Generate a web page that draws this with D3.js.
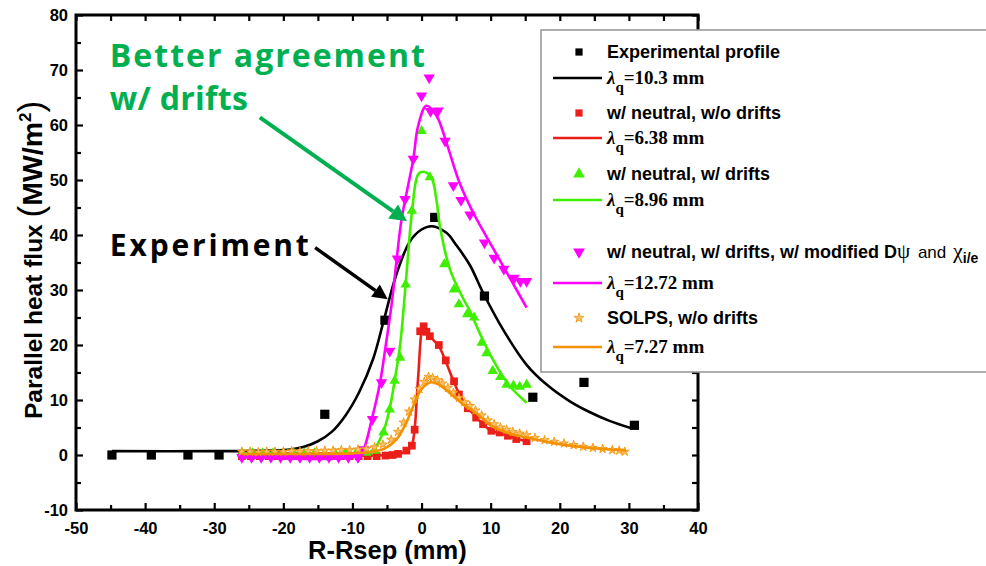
<!DOCTYPE html>
<html>
<head>
<meta charset="utf-8">
<script src="https://cdn.jsdelivr.net/npm/d3@7"></script>
<style>
  html, body { margin: 0; padding: 0; background: #fff; }
  svg { display: block; }
</style>
</head>
<body>
<svg id="chart" width="986" height="566"></svg>
<script>
// ---- axis ticks ----
const xTicks = [-50, -40, -30, -20, -10, 0, 10, 20, 30, 40];
const yTicks = [-10, 0, 10, 20, 30, 40, 50, 60, 70, 80];
const xMinor = [-45, -35, -25, -15, -5, 5, 15, 25, 35];
const yMinor = [-5, 5, 15, 25, 35, 45, 55, 65, 75];

// ---- experimental profile (squares) and its fit, lambda_q = 10.3 mm ----
const expX = [-44.8, -39.1, -33.8, -29.3, -14.0, -5.3, 1.9, 9.1, 16.1, 23.5, 30.8];
const expY = [0, 0, 0, 0, 7.4, 24.5, 43.2, 28.9, 10.5, 13.2, 5.4];
const expFitX = [-44.8, -30, -22, -19, -17, -15, -13, -11, -9, -7, -5.5, -3.6, -1.7, 0, 1.5, 3.6, 5, 7, 8.9, 11.8, 15.2, 18.1, 21.4, 24, 27.2, 30.5];
const expFitY = [0.7, 0.7, 0.8, 1.0, 1.5, 2.5, 4.2, 7.2, 11.5, 17.5, 24.3, 33, 38.8, 41, 41.6, 40.4, 38.2, 34.5, 29.5, 22.8, 16.4, 12.8, 9.8, 8.0, 6.2, 4.8];

// ---- w/ neutral, w/o drifts (red squares), lambda_q = 6.38 mm ----
const noDriftX = [-26, -24.7, -23.4, -22.1, -20.8, -19.5, -18.2, -16.9, -15.6, -14.3, -13, -11.7, -10.4, -9.1, -7.8, -6.5, -5.2, -4.2, -3.4, -2.2, -1.4, -1.0, -0.2, 0.3, 0.7, 1.2, 2.5, 3.5, 4.7, 5.4, 6.7, 7.9, 8.9, 10.1, 11.3, 12.5, 13.7, 15.2];
const noDriftY = [-0.2, -0.2, -0.2, -0.2, -0.2, -0.2, -0.2, -0.2, -0.2, -0.2, -0.2, -0.2, -0.2, -0.2, -0.2, -0.2, -0.1, 0, 0.2, 0.8, 1.7, 4.6, 22.5, 23.4, 22.4, 21.6, 20, 17.2, 13.4, 11, 8.5, 6.8, 5.6, 4.4, 4.1, 3.5, 2.9, 2.5];
const noDriftFitX = [-26, -5, -3, -2, -1.4, -1, -0.5, 0.3, 1.2, 2.5, 3.5, 4.7, 5.5, 6.7, 7.9, 8.9, 10.1, 11.3, 12.5, 13.7, 15.2];
const noDriftFitY = [-0.1, 0, 0.3, 0.8, 1.8, 4.7, 14, 23.5, 21.6, 19.8, 17, 13.2, 11, 8.6, 6.9, 5.6, 4.4, 4, 3.5, 3, 2.5];

// ---- w/ neutral, w/ drifts (green triangles), lambda_q = 8.96 mm ----
const driftX = [-26, -24.5, -23, -21.5, -20, -18.5, -17, -15.5, -14, -12.5, -11, -9.5, -8, -6.8, -5.5, -4.6, -3.9, -3.1, -2.3, -1.4, 0, 1.2, 3.3, 4.7, 5.4, 6.6, 7.6, 8.7, 9.4, 10.3, 11.4, 12.3, 13.3, 14.2, 15.2];
const driftY = [0.3, 0.3, 0.3, 0.3, 0.3, 0.3, 0.3, 0.3, 0.3, 0.3, 0.3, 0.3, 0.4, 0.8, 4.1, 8.3, 13.5, 17.7, 31, 44.4, 58.9, 50.5, 34.7, 30.1, 27.4, 25.6, 25, 20.4, 18.5, 15.3, 14.2, 12.8, 12.6, 12.4, 12.8];
const driftFitX = [-26, -8.5, -7, -5.6, -4.6, -3.9, -3.1, -2.3, -1.4, -0.5, 0.2, 1.4, 2.2, 2.6, 4.1, 6, 7, 8.4, 10.3, 12.8, 15.2];
const driftFitY = [0.3, 0.3, 0.9, 4, 8.5, 13.5, 20, 31, 44, 51, 51.5, 50.5, 46, 42, 33.8, 28.5, 26.2, 22.2, 17.4, 12.5, 9.5];

// ---- w/ neutral, w/ drifts, w/ modified D and chi (magenta), lambda_q = 12.72 mm ----
const modX = [-26, -24.6, -23.2, -21.8, -20.4, -19, -17.6, -16.2, -14.8, -13.4, -12, -10.6, -9.2, -8.4, -7.1, -5.8, -4.6, -3.5, -2.4, -1.2, 0, 1.1, 1.3, 2.4, 3.4, 4.6, 5.7, 7.0, 9.1, 10.5, 11.9, 13.4, 14.3, 15.2];
const modY = [-0.4, -0.4, -0.4, -0.4, -0.4, -0.4, -0.4, -0.4, -0.4, -0.4, -0.4, -0.4, -0.4, 1.0, 6.5, 13.2, 18.9, 35.7, 46.5, 53.8, 65.3, 68.6, 62.5, 62.6, 57.1, 49, 46.3, 43.7, 38.6, 35.8, 33.8, 32.2, 31.6, 31.6];
const modFitX = [-26, -10, -9, -8.4, -7.2, -6, -5.3, -4.3, -3.6, -2.9, -1.2, -0.5, 0.7, 2.2, 3.6, 5.5, 7.5, 10.3, 12.5, 15.2];
const modFitY = [-0.4, -0.4, 0.2, 1, 6.5, 13.2, 18.9, 27.7, 35.6, 42.8, 53.8, 59.8, 63.5, 61.6, 56.8, 49.5, 44, 37.7, 32.8, 26.8];

// ---- SOLPS, w/o drifts (orange stars), lambda_q = 7.27 mm ----
const solpsX = [-26, -24.8, -23.6, -22.4, -21.2, -20, -18.8, -17.6, -16.4, -15.2, -14, -12.8, -11.6, -10.4, -9.2, -8, -6.8, -5.6, -4.4, -3.4, -2.6, -1.8, -1, -0.3, 0.4, 1, 1.6, 2.3, 3, 3.8, 4.6, 5.4, 6.2, 7, 7.8, 8.7, 9.6, 10.5, 11.4, 12.3, 13.2, 14.2, 15.2, 16.4, 17.8, 19.2, 20.6, 22, 23.4, 24.8, 26.2, 27.6, 28.6, 29.4];
const solpsY = [0.6, 0.6, 0.5, 0.6, 0.6, 0.6, 0.7, 0.6, 0.7, 0.7, 0.8, 0.8, 0.9, 0.9, 1.0, 1.1, 1.4, 1.9, 2.8, 4.2, 5.9, 7.9, 10.1, 12.0, 13.3, 14.2, 14.0, 13.6, 13.0, 12.2, 11.3, 10.4, 9.6, 8.9, 8.1, 7.2, 6.3, 5.6, 5.0, 4.6, 4.2, 3.9, 3.6, 3.1, 2.7, 2.4, 2.1, 1.8, 1.5, 1.3, 1.1, 0.9, 0.8, 0.6];
const solpsFitX = [-26, -10, -7, -5.3, -3.6, -2.2, -1, 0, 1.2, 2.5, 4.6, 6.2, 7.9, 10, 12.5, 15.2, 18.5, 23.4, 29.6];
const solpsFitY = [0.2, 0.3, 0.6, 1.2, 2.9, 5.9, 9.5, 12, 13.2, 12.8, 10.7, 9, 7.6, 5.4, 4, 3.2, 2.3, 1.4, 0.8];

// ---- legend text ----
const legendNames = ["Experimental profile", "w/ neutral, w/o drifts", "w/ neutral, w/ drifts", "w/ neutral, w/ drifts, w/ modified D", "SOLPS, w/o drifts"];
const lambdaValues = ["10.3", "6.38", "8.96", "12.72", "7.27"];

// ---- colours and layout ----
const C = { exp: "#000000", red: "#ea1f1a", green: "#3ef000", magenta: "#ff00ff", orange: "#f39100", star: "#f7c06a", note: "#00b050" };
const svg = d3.select("#chart");
const x = d3.scaleLinear().domain([-50, 40]).range([76, 698]);
const y = d3.scaleLinear().domain([-10, 80]).range([510, 15]);
const zip = (a, b) => a.map((v, i) => [v, b[i]]);
const line = d3.line().x(d => x(d[0])).y(d => y(d[1])).curve(d3.curveCatmullRom.alpha(0.5));

const plot = svg.append("g");

// ---- series ----
const series = [
  { pts: zip(expX, expY), fit: zip(expFitX, expFitY), color: C.exp, sym: "square", size: 85, width: 2.6 },
  { pts: zip(noDriftX, noDriftY), fit: zip(noDriftFitX, noDriftFitY), color: C.red, sym: "square", size: 60, width: 2.6 },
  { pts: zip(driftX, driftY), fit: zip(driftFitX, driftFitY), color: C.green, sym: "up", size: 48, width: 2.6 },
  { pts: zip(modX, modY), fit: zip(modFitX, modFitY), color: C.magenta, sym: "down", size: 55, width: 2.6 },
  { pts: zip(solpsX, solpsY), fit: zip(solpsFitX, solpsFitY), color: C.orange, sym: "star", size: 26, width: 2.6 }
];

function marker(g, s, size) {
  if (s.sym === "star") {
    g.append("path").attr("d", d3.symbol(d3.symbolStar, size)())
      .attr("fill", C.star).attr("stroke", s.color).attr("stroke-width", 0.8);
  } else if (s.sym === "square") {
    g.append("path").attr("d", d3.symbol(d3.symbolSquare, size)()).attr("fill", s.color);
  } else {
    g.append("path").attr("d", d3.symbol(d3.symbolTriangle, size)())
      .attr("transform", s.sym === "down" ? "rotate(180)" : null)
      .attr("fill", s.color);
  }
}

series.forEach(s => {
  const g = plot.append("g");
  g.selectAll("g.pt").data(s.pts).join("g").attr("class", "pt")
    .attr("transform", d => `translate(${x(d[0])},${y(d[1])})`)
    .each(function () { marker(d3.select(this), s, s.size); });
  g.append("path").datum(s.fit).attr("d", line)
    .attr("fill", "none").attr("stroke", s.color).attr("stroke-width", s.width)
    .attr("stroke-linejoin", "round");
});

// ---- axes (ticks inward) ----
const sansBold = "Liberation Sans, Arial, sans-serif";
const serif = "Liberation Serif, Times New Roman, serif";
const tickFont = g => g.selectAll("text").attr("font-family", sansBold)
  .attr("font-weight", "bold").attr("font-size", 16.5).attr("fill", "#000");
const clean = g => { g.select(".domain").remove(); g.selectAll("line").attr("stroke", "#000").attr("stroke-width", 2.2); };

svg.append("g").attr("transform", `translate(0,${y(-10)})`)
  .call(d3.axisBottom(x).tickValues(xTicks).tickSize(-7).tickPadding(12).tickFormat(d => String(d)))
  .call(clean).call(tickFont);
svg.append("g").attr("transform", `translate(0,${y(-10)})`)
  .call(d3.axisBottom(x).tickValues(xMinor).tickSize(-5).tickFormat("")).call(clean);
svg.append("g").attr("transform", `translate(${x(-50)},0)`)
  .call(d3.axisLeft(y).tickValues(yTicks).tickSize(-7).tickPadding(8).tickFormat(d => String(d)))
  .call(clean).call(tickFont);
svg.append("g").attr("transform", `translate(${x(-50)},0)`)
  .call(d3.axisLeft(y).tickValues(yMinor).tickSize(-5).tickFormat("")).call(clean);
svg.append("g").attr("transform", `translate(0,${y(80)})`)
  .call(d3.axisTop(x).tickValues(xTicks.concat(xMinor)).tickSize(-6).tickFormat("")).call(clean);
svg.append("g").attr("transform", `translate(${x(40)},0)`)
  .call(d3.axisRight(y).tickValues(yTicks.concat(yMinor)).tickSize(-6).tickFormat("")).call(clean);

// frame
svg.append("path")
  .attr("d", `M${x(-50)},${y(80)}H${x(40)}V${y(-10)}H${x(-50)}Z`)
  .attr("fill", "none").attr("stroke", "#000").attr("stroke-width", 3);

// ---- axis titles ----
svg.append("text")
  .attr("x", 308).attr("y", 559)
  .attr("font-family", sansBold).attr("font-weight", "bold")
  .attr("font-size", 25.5).text("R-Rsep (mm)");

const yt = svg.append("text")
  .attr("transform", "translate(42,419) rotate(-90)")
  .attr("font-family", sansBold).attr("font-weight", "bold")
  .attr("font-size", 24.5);
yt.append("tspan").text("Parallel heat flux ");
yt.append("tspan").attr("font-weight", "normal").attr("font-size", 35).attr("dy", 1).text("(");
yt.append("tspan").attr("font-size", 28.5).attr("dy", -1).text("MW/m");
yt.append("tspan").attr("font-size", 17).attr("dy", -11).text("2");
yt.append("tspan").attr("font-weight", "normal").attr("font-size", 35).attr("dy", 12).text(")");

// ---- legend ----
const lg = svg.append("g");
lg.append("rect").attr("x", 541).attr("y", 30).attr("width", 470).attr("height", 342)
  .attr("fill", "#fff").attr("stroke", "#9a9a9a").attr("stroke-width", 1.6);

const rowMarkerY = [52, 113, 174, 252, 318];
const rowLineY = [78, 138, 200, 283, 347];

series.forEach((s, i) => {
  const mg = lg.append("g").attr("transform", `translate(579,${rowMarkerY[i]})`);
  marker(mg, s, s.sym === "star" ? 30 : s.sym === "square" ? 52 : 60);
  const t = lg.append("text").attr("x", 607).attr("y", rowMarkerY[i] + 6)
    .attr("font-family", sansBold).attr("font-weight", "bold").attr("font-size", 18);
  t.append("tspan").text(legendNames[i]);
  if (i === 3) {
    t.append("tspan").attr("font-family", serif).attr("font-weight", "normal").attr("font-size", 21).text("ψ");
    t.append("tspan").attr("font-weight", "normal").attr("font-size", 17).attr("dx", 3).text(" and ");
    t.append("tspan").attr("font-family", serif).attr("font-weight", "normal").attr("font-size", 22).attr("dx", 2).text("χ");
    t.append("tspan").attr("font-size", 14).attr("dy", 5).text("i/e");
  }
  lg.append("line").attr("x1", 553).attr("x2", 602).attr("y1", rowLineY[i]).attr("y2", rowLineY[i])
    .attr("stroke", s.color).attr("stroke-width", 2.6);
  const lt = lg.append("text").attr("x", 607).attr("y", rowLineY[i] + 6)
    .attr("font-family", serif).attr("font-weight", "bold").attr("font-size", 19);
  lt.append("tspan").attr("font-style", "italic").text("λ");
  lt.append("tspan").attr("font-size", 15).attr("dy", 8).text("q");
  lt.append("tspan").attr("dy", -8).text("=" + lambdaValues[i] + " mm");
});

// ---- annotations ----
const noteFont = "Open Sans, Lato, sans-serif";
function arrow(x1, y1, x2, y2, color, w, head) {
  const ang = Math.atan2(y2 - y1, x2 - x1);
  const bx = x2 - head * Math.cos(ang), by = y2 - head * Math.sin(ang);
  svg.append("line").attr("x1", x1).attr("y1", y1).attr("x2", bx).attr("y2", by)
    .attr("stroke", color).attr("stroke-width", w);
  const px = Math.sin(ang) * head * 0.5, py = -Math.cos(ang) * head * 0.5;
  svg.append("path").attr("d", `M${x2},${y2}L${bx + px},${by + py}L${bx - px},${by - py}Z`).attr("fill", color);
}

svg.append("text").attr("x", x(-45.1)).attr("y", y(70.5))
  .attr("font-family", noteFont).attr("font-weight", "bold").attr("font-size", 32)
  .attr("fill", C.note).attr("textLength", 315).text("Better agreement");
svg.append("text").attr("x", x(-45.1)).attr("y", y(62.8))
  .attr("font-family", noteFont).attr("font-weight", "bold").attr("font-size", 32)
  .attr("fill", C.note).attr("textLength", 138).text("w/ drifts");
svg.append("text").attr("x", x(-45.1)).attr("y", y(36.2))
  .attr("font-family", noteFont).attr("font-weight", "bold").attr("font-size", 30)
  .attr("fill", "#000").attr("textLength", 199).text("Experiment");

arrow(x(-23.4), y(61.4), x(-2.1), y(42.5), C.note, 4, 17);
arrow(x(-15.4), y(37.7), x(-4.9), y(28.3), "#000", 3.5, 15);
</script>
</body>
</html>
